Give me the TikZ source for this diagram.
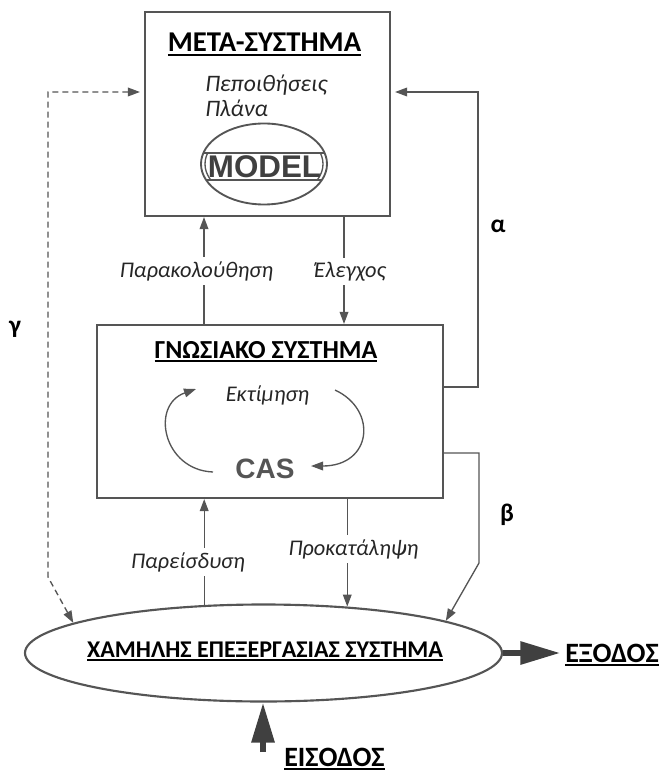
\documentclass[tikz,border=0pt]{standalone}
\usepackage{fontspec}
\setmainfont{Carlito}
\newfontfamily\arialfont{Liberation Sans}
\usetikzlibrary{arrows.meta,shapes.geometric}
\definecolor{ln}{HTML}{555555}
\definecolor{dk}{HTML}{404040}
\newcommand\myul[1]{\setbox0=\hbox{#1}\leavevmode\rlap{\rule[-2.8pt]{\wd0}{1.3pt}}\box0}
\begin{document}
\begin{tikzpicture}[x=0.75pt,y=-0.75pt,
  tip/.tip={Triangle[length=9pt,width=6.5pt]},
  box/.style={draw=ln,line width=1.6pt,fill=white,inner sep=0pt},
  conn/.style={draw=ln,line width=1pt,-tip},
  lab/.style={font=\itshape\fontsize{16.8}{19}\selectfont,inner sep=0pt,anchor=base,text=black!85},
  labw/.style={lab,fill=white,inner ysep=3pt,inner xsep=1pt},
  ttl/.style={font=\bfseries\fontsize{21.5}{24}\selectfont,anchor=base,inner sep=0pt},
  greek/.style={font=\bfseries\fontsize{19}{22}\selectfont,anchor=base,inner sep=0pt},
  big/.style={draw=dk,line width=4.5pt,-{Triangle[length=30pt,width=16.5pt]}}]
\useasboundingbox (0,0) rectangle (661,773);

% main shapes
\node[box,minimum width=183.75pt,minimum height=153pt] (meta) at (267.5,114) {};
\node[box,minimum width=259.5pt,minimum height=129.75pt] (cog) at (270,411.5) {};
\node[draw=ln,line width=1.6pt,ellipse,fill=white,inner sep=0pt,
      minimum width=357.75pt,minimum height=72.75pt] (low) at (263.5,653) {};

% texts in META
\node[ttl] (metat) at (264.5,52) {\myul{ΜΕΤΑ-ΣΥΣΤΗΜΑ}};
\node[lab,anchor=base west,font=\itshape\fontsize{17.7}{20}\selectfont] (bel) at (205,92) {Πεποιθήσεις};
\node[lab,anchor=base west,font=\itshape\fontsize{17.7}{20}\selectfont] (plan) at (205,117) {Πλάνα};

% MODEL
\node[ellipse,draw=ln,line width=1.4pt,inner sep=0pt,minimum width=94.5pt,minimum height=60.75pt] (model) at (264,164) {};
\begin{scope}
  \clip (264,164) ellipse [x radius=63,y radius=40];
  \draw[ln,line width=1.2pt] (190,153) -- (340,153) (190,180) -- (340,180);
  \clip (190,153) rectangle (340,180);
  \draw[ln,line width=1pt] (264,164) ellipse [x radius=59,y radius=37];
\end{scope}
\node[font=\arialfont\bfseries\fontsize{23.5}{26}\selectfont,text=dk,anchor=base,inner sep=0pt] (modelt) at (264.5,178) {MODEL};

% texts in cognitive system
\node[ttl,font=\bfseries\fontsize{19.5}{23}\selectfont] (cogt) at (266,358) {\myul{ΓΝΩΣΙΑΚΟ ΣΥΣΤΗΜΑ}};
\node[lab] (est) at (267.5,401) {Εκτίμηση};
\node[font=\arialfont\bfseries\fontsize{21}{24}\selectfont,text=ln,anchor=base,inner sep=0pt] (cas) at (265,478) {CAS};

% cycle arrows
\draw[conn] (213,472) .. controls (163,470) and (150,405) .. (196,389);
\draw[conn] (335,390) .. controls (378,410) and (372,466) .. (311,466);

% vertical connectors
\coordinate (xmon) at (204,0);
\coordinate (xctl) at (344,0);
\draw[conn] (cog.north -| xmon) -- (meta.south -| xmon);
\draw[conn] (meta.south -| xctl) -- (cog.north -| xctl);
\draw[conn] (low.141.7) -- (low.141.7 |- cog.south);
\draw[conn] (cog.south -| low.29.6) -- (low.29.6);

\node[labw] (mon) at (196.5,277) {Παρακολούθηση};
\node[labw] (ctl) at (350,277) {Έλεγχος};
\node[labw] (intr) at (188,568) {Παρείσδυση};
\node[labw] (bias) at (353.5,555) {Προκατάληψη};

% alpha loop
\coordinate (ra) at (478,92);
\coordinate (rb) at (478,387);
\draw[conn,shorten >=3pt] (cog.east |- rb) -- (rb) -- (ra) -- (meta.east |- ra);
\node[greek] (alpha) at (498,233) {α};

% beta loop
\coordinate (rc) at (479,453);
\coordinate (rd) at (479,563);
\draw[conn] (cog.east |- rc) -- (rc) -- (rd) -- (low.10);
\node[greek] (beta) at (507,521) {β};

% gamma loop
\coordinate (la) at (48,92);
\coordinate (lb) at (48,577);
\draw[conn,dash pattern=on 4.5pt off 3pt,tip-tip,shorten >=3pt] (low.171) -- (lb) -- (la) -- (meta.west |- la);
\node[greek] (gamma) at (15,333) {γ};

% input / output
\node[ttl,anchor=base west,font=\bfseries\fontsize{21}{24}\selectfont] (out) at (565,662) {\myul{ΕΞΟΔΟΣ}};
\draw[big,shorten >=3.5pt] (low.east) -- (low.east -| out.west);
\node[ttl,anchor=base west,font=\bfseries\fontsize{21}{24}\selectfont] (in) at (284,766) {\myul{ΕΙΣΟΔΟΣ}};
\coordinate (inb) at (263,752);
\draw[big] (inb) -- (low.south -| inb);

\node[ttl,font=\bfseries\fontsize{18}{21}\selectfont] (lowt) at (265,657) {\myul{ΧΑΜΗΛΗΣ ΕΠΕΞΕΡΓΑΣΙΑΣ ΣΥΣΤΗΜΑ}};
\end{tikzpicture}
\end{document}
